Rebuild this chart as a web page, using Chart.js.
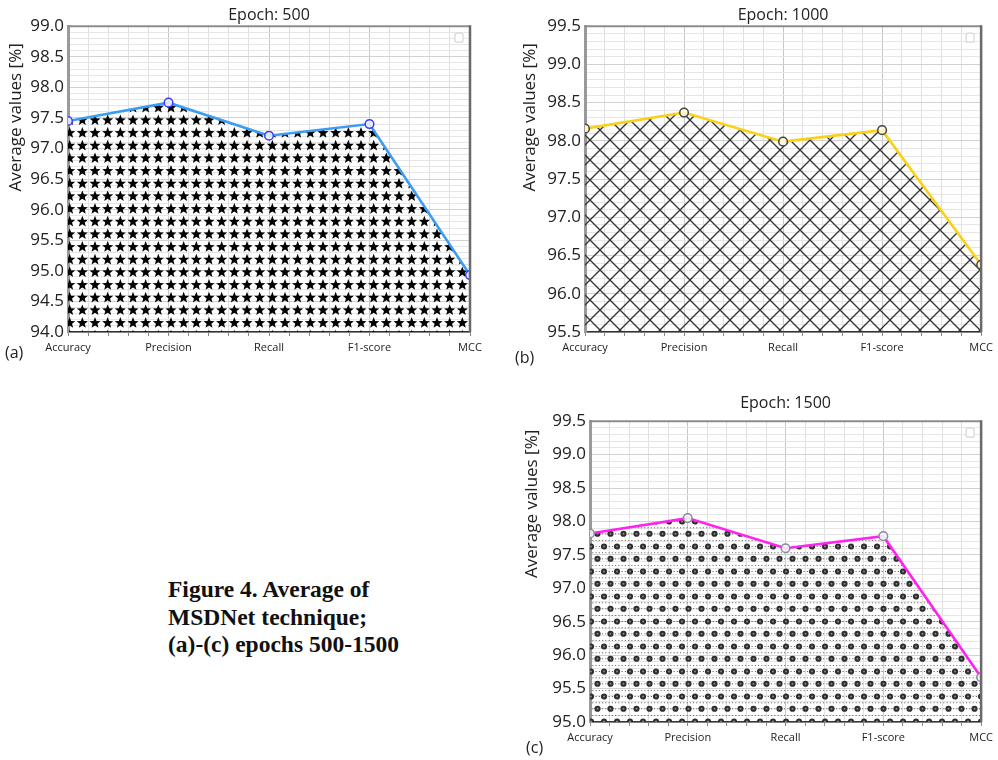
<!DOCTYPE html>
<html><head><meta charset="utf-8">
<script src="https://cdn.jsdelivr.net/npm/chart.js@4.4.1/dist/chart.umd.min.js"></script>
<style>
html,body{margin:0;padding:0;background:#fff;width:998px;height:760px;overflow:hidden;position:relative;}
canvas{position:absolute;display:block;}
.lbl{position:absolute;font:16px 'Open Sans',sans-serif;color:#222;line-height:20px;white-space:nowrap;}
.cap{position:absolute;left:168px;top:576px;font:bold 23.5px 'Liberation Serif','Times New Roman',serif;line-height:27.5px;color:#111;white-space:nowrap;}
</style></head><body>
<canvas id="cA" width="490" height="362" style="left:0;top:0"></canvas>
<canvas id="cB" width="488" height="362" style="left:510px;top:0"></canvas>
<canvas id="cC" width="488" height="362" style="left:510px;top:390px"></canvas>
<div class="lbl" style="left:5px;top:342px">(a)</div>
<div class="lbl" style="left:515px;top:347px">(b)</div>
<div class="lbl" style="left:526px;top:737px">(c)</div>
<div class="cap">Figure 4. Average of<br>MSDNet technique;<br>(a)-(c) epochs 500-1500</div>
<script>
// ---- data ----
const categories = ['Accuracy', 'Precision', 'Recall', 'F1-score', 'MCC'];
const epoch500Values  = [97.45, 97.75, 97.21, 97.40, 94.93];
const epoch1000Values = [98.16, 98.37, 97.99, 98.14, 96.38];
const epoch1500Values = [97.82, 98.05, 97.60, 97.78, 95.67];
const epochTitles = ['Epoch: 500', 'Epoch: 1000', 'Epoch: 1500'];
const yRange500  = [94.0, 99.0];
const yRange1000 = [95.5, 99.5];
const yRange1500 = [95.0, 99.5];
const yAxisTitle = 'Average values [%]';

// ---- fill patterns ----
function starPattern(){
  const t=document.createElement('canvas');t.width=38;t.height=38;
  const c=t.getContext('2d');c.fillStyle='#000';
  const s=38/3;
  for(let i=0;i<3;i++)for(let j=0;j<3;j++){
    const cx=s/2+i*s, cy=s/2+j*s;
    c.beginPath();
    for(let k=0;k<10;k++){const a=-Math.PI/2+k*Math.PI/5;const rad=k%2?2.5:5.9;c.lineTo(cx+rad*Math.cos(a),cy+rad*Math.sin(a));}
    c.closePath();c.fill();
  }
  return c.createPattern(t,'repeat');
}
function crossPattern(){
  const t=document.createElement('canvas');t.width=20;t.height=20;
  const c=t.getContext('2d');c.strokeStyle='#333';c.lineWidth=1.35;
  c.beginPath();c.moveTo(-2,-2);c.lineTo(22,22);c.moveTo(22,-2);c.lineTo(-2,22);c.stroke();
  return c.createPattern(t,'repeat');
}
function dotPattern(){
  const w=13,h=25;
  const t=document.createElement('canvas');t.width=w;t.height=h;
  const c=t.getContext('2d');
  const small=(x,y)=>{c.fillStyle='#444';c.beginPath();c.arc(x,y,0.6,0,Math.PI*2);c.fill();};
  const rows=[0.25,6.5,12.75,18.75];
  rows.forEach(y=>{for(let x=1.6;x<w;x+=3.25)small(x,y);});
  const big=(x,y)=>{c.fillStyle='#2e2e2e';c.beginPath();c.arc(x,y,3.1,0,Math.PI*2);c.fill();c.fillStyle='#8a8a8a';c.beginPath();c.arc(x,y,1.0,0,Math.PI*2);c.fill();};
  [[3,6.5],[9.5,18.75],[-3.5,18.75],[16,6.5]].forEach(p=>big(p[0],p[1]));
  return c.createPattern(t,'repeat');
}

const framePlugin={
  id:'frame',
  afterDraw(chart){
    const {ctx,chartArea:{left,right,top,bottom}}=chart;
    ctx.save();
    ctx.strokeStyle='#8c8c8c';ctx.lineWidth=2;
    ctx.beginPath();ctx.moveTo(left,top);ctx.lineTo(right,top);ctx.stroke();
    ctx.strokeStyle='#6a6a6a';ctx.lineWidth=2.5;
    ctx.beginPath();ctx.moveTo(right,top-1);ctx.lineTo(right,bottom);ctx.stroke();
    ctx.strokeStyle='#d6d6d6';ctx.lineWidth=1.2;ctx.fillStyle='#fff';
    const bx=right-15,by=top+7,bw=8,bh=9,r=2;
    ctx.beginPath();
    ctx.moveTo(bx+r,by);ctx.lineTo(bx+bw-r,by);ctx.quadraticCurveTo(bx+bw,by,bx+bw,by+r);
    ctx.lineTo(bx+bw,by+bh-r);ctx.quadraticCurveTo(bx+bw,by+bh,bx+bw-r,by+bh);
    ctx.lineTo(bx+r,by+bh);ctx.quadraticCurveTo(bx,by+bh,bx,by+bh-r);
    ctx.lineTo(bx,by+r);ctx.quadraticCurveTo(bx,by,bx+r,by);
    ctx.closePath();ctx.fill();ctx.stroke();
    ctx.restore();
  }
};

function makeChart(id, values, yRange, title, o){
  const near=(v,step)=>Math.abs(v/step-Math.round(v/step))<1e-6;
  return new Chart(document.getElementById(id),{
    type:'line',
    data:{datasets:[{
      data:values.map((v,i)=>({x:i,y:v})),
      borderColor:o.line,borderWidth:2.6,
      fill:'start',backgroundColor:o.pattern,
      pointRadius:4.3,pointBorderWidth:1.5,
      pointBorderColor:o.pointBorder,pointBackgroundColor:o.pointFill,
      tension:0
    }]},
    options:{
      responsive:false,animation:false,
      layout:{padding:{top:o.padTop,right:o.padRight,left:0,bottom:0}},
      plugins:{
        legend:{display:false},tooltip:{enabled:false},
        title:{display:true,text:title,fullSize:false,color:'#222',
          font:{family:"'Open Sans', sans-serif",size:16,weight:'normal'},
          padding:{top:o.titleTop,bottom:o.titleBottom}}
      },
      scales:{
        x:{type:'linear',min:0,max:categories.length-1,
          afterFit:s=>{s.height=30;},
          ticks:{stepSize:0.2,autoSkip:false,maxRotation:0,padding:5,color:'#222',
            font:{family:"'Open Sans', sans-serif",size:11},
            callback:v=>near(v,1)?categories[Math.round(v)]:''},
          grid:{color:c=>near(c.tick.value,1)?'#c6c6c6':'#e0e0e0',lineWidth:1,
            drawTicks:true,tickLength:4,tickColor:'#888'},
          border:{color:'#333',width:1.6}
        },
        y:{min:yRange[0],max:yRange[1],
          afterFit:s=>{s.width=o.yWidth;},
          ticks:{stepSize:0.1,autoSkip:false,padding:4,color:'#222',
            font:{family:"'Open Sans', sans-serif",size:17},
            callback:v=>near(v,0.5)?Number(v).toFixed(1):''},
          grid:{color:c=>near(c.tick.value,0.5)?'#d2d2d2':'#e6e6e6',lineWidth:1,drawTicks:false},
          border:{color:'#9a9a9a',width:3},
          title:{display:true,text:yAxisTitle+o.yTitleTail,align:'end',color:'#222',
            font:{family:"'Open Sans', sans-serif",size:17},padding:{top:o.yTitlePad,bottom:0}}
        }
      }
    },
    plugins:[framePlugin]
  });
}

makeChart('cA',epoch500Values,yRange500,epochTitles[0],{
  line:'#3a9cf2',pointBorder:'#3b3bff',pointFill:'rgba(235,240,255,0.9)',pattern:starPattern(),
  padTop:0,padRight:20,titleTop:6,titleBottom:1,yWidth:68,yTitlePad:6,yTitleTail:'\u2002\u2002'});
makeChart('cB',epoch1000Values,yRange1000,epochTitles[1],{
  line:'#fbd116',pointBorder:'#444',pointFill:'rgba(255,250,220,0.9)',pattern:crossPattern(),
  padTop:0,padRight:14,titleTop:6,titleBottom:1,yWidth:75,yTitlePad:10,yTitleTail:'\u2002\u2002'});
makeChart('cC',epoch1500Values,yRange1500,epochTitles[2],{
  line:'#ff22f0',pointBorder:'#8a8a9a',pointFill:'rgba(245,245,250,0.9)',pattern:dotPattern(),
  padTop:0,padRight:10,titleTop:4,titleBottom:8,yWidth:80,yTitlePad:12,yTitleTail:'\u2002'});
</script>
</body></html>
